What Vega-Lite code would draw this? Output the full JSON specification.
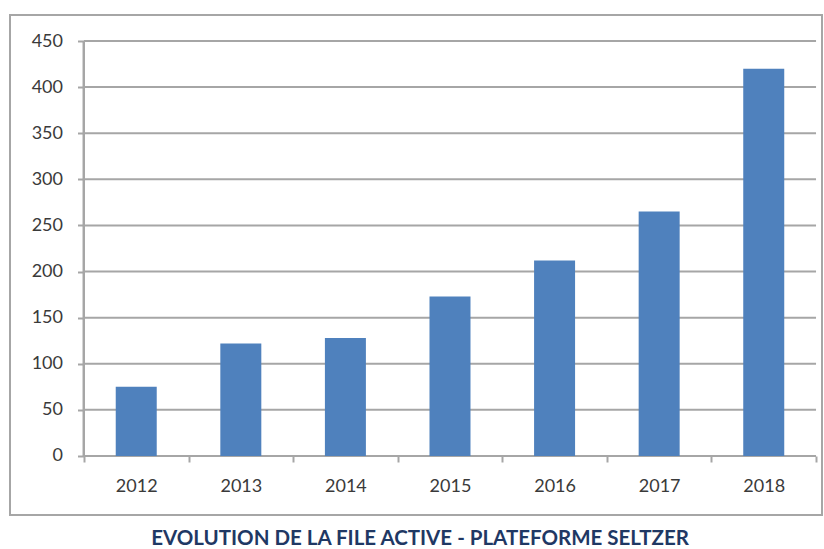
{
  "$schema": "https://vega.github.io/schema/vega-lite/v6.json",
  "width": 812,
  "height": 500,
  "autosize": {"type": "none"},
  "padding": {"left": 10, "top": 15, "right": 2, "bottom": 34},
  "background": "white",
  "config": {
    "view": {"stroke": "#a6a6a6", "strokeWidth": 2},
    "axis": {"labelFont": "Lato", "labelFontSize": 18, "labelColor": "#3a3a3a", "grid": false, "domain": false, "tickColor": "#a6a6a6", "tickWidth": 2}
  },
  "title": {
    "text": "EVOLUTION DE LA FILE ACTIVE - PLATEFORME SELTZER",
    "orient": "bottom",
    "anchor": "middle",
    "font": "Lato",
    "fontSize": 20.5,
    "fontWeight": "bold",
    "color": "#1f3864",
    "offset": 30,
    "dx": 4,
    "baseline": "alphabetic"
  },
  "datasets": {
    "bars": [
      {"year": 2012, "value": 75},
      {"year": 2013, "value": 122},
      {"year": 2014, "value": 128},
      {"year": 2015, "value": 173},
      {"year": 2016, "value": 212},
      {"year": 2017, "value": 265},
      {"year": 2018, "value": 420}
    ],
    "grid": [
      {"v": 0}, {"v": 50}, {"v": 100}, {"v": 150}, {"v": 200},
      {"v": 250}, {"v": 300}, {"v": 350}, {"v": 400}, {"v": 450}
    ]
  },
  "layer": [
    {
      "data": {"name": "grid"},
      "mark": {"type": "rule", "color": "#a6a6a6", "strokeWidth": 2},
      "encoding": {
        "y": {"field": "v", "type": "quantitative", "title": null},
        "x": {"datum": 2011.5, "type": "quantitative", "title": null},
        "x2": {"datum": 2018.5}
      }
    },
    {
      "data": {"name": "grid"},
      "mark": {"type": "rule", "color": "#a6a6a6", "strokeWidth": 2},
      "encoding": {
        "x": {"datum": 2011.5, "type": "quantitative", "title": null},
        "y": {"datum": 0, "type": "quantitative", "title": null},
        "y2": {"datum": 450}
      }
    },
    {
      "data": {"name": "bars"},
      "mark": {"type": "bar", "color": "#4f81bd", "width": 41},
      "encoding": {
        "x": {
          "field": "year",
          "type": "quantitative",
          "title": null,
          "scale": {"domain": [2010.793, 2018.557], "nice": false, "zero": false, "padding": 0},
          "axis": {
            "values": [2011.5, 2012, 2012.5, 2013, 2013.5, 2014, 2014.5, 2015, 2015.5, 2016, 2016.5, 2017, 2017.5, 2018, 2018.5],
            "labelExpr": "datum.value % 1 === 0 ? format(datum.value, 'd') : ''",
            "tickOpacity": {"condition": {"test": "datum.value % 1 !== 0", "value": 1}, "value": 0},
            "tickSize": 6,
            "offset": -59,
            "labelPadding": 15,
            "labelFlush": false,
            "labelOverlap": false
          }
        },
        "y": {
          "field": "value",
          "type": "quantitative",
          "title": null,
          "scale": {"domain": [-64, 478.2], "nice": false, "zero": false, "padding": 0},
          "axis": {
            "values": [0, 50, 100, 150, 200, 250, 300, 350, 400, 450],
            "tickSize": 6,
            "offset": -73.5,
            "labelPadding": 15,
            "labelFlush": false,
            "labelOverlap": false
          }
        },
        "y2": {"datum": 0}
      }
    }
  ]
}
